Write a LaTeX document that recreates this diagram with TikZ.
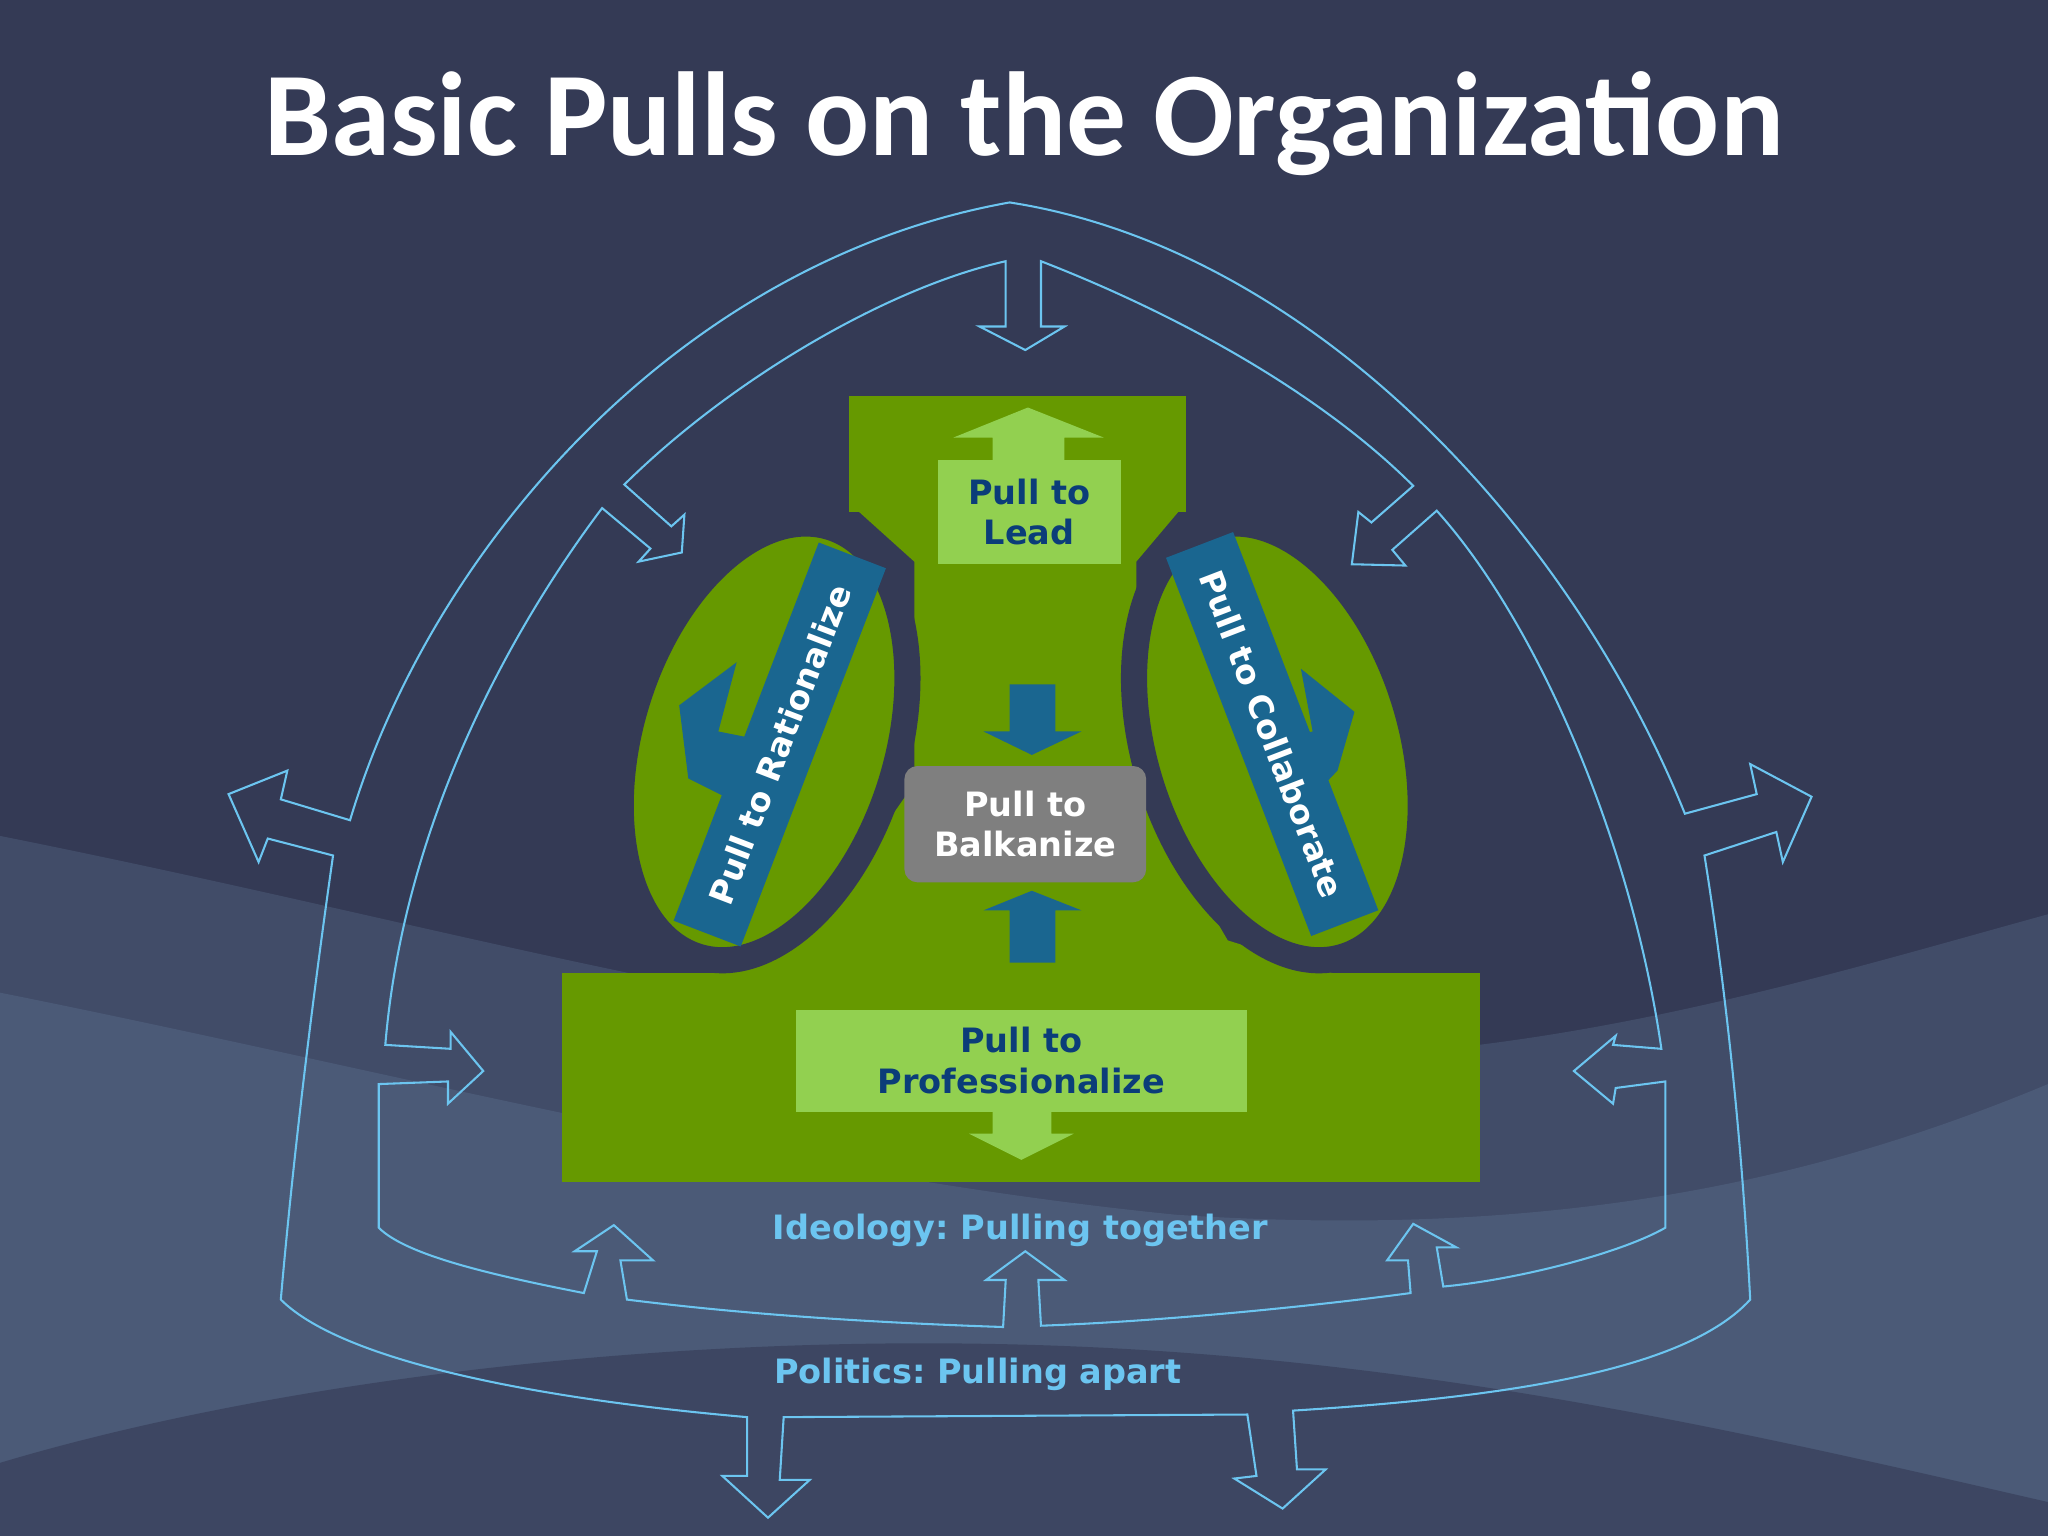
\documentclass[tikz,border=0pt]{standalone}
\usepackage{fontspec}
\setmainfont{DejaVu Sans}
\newfontfamily\titlefont{Carlito}
\definecolor{bg}{HTML}{343A55}
\definecolor{grn}{HTML}{669900}
\definecolor{lgrn}{HTML}{92D050}
\definecolor{navy}{HTML}{0B3D79}
\definecolor{bblue}{HTML}{1A6690}
\definecolor{gry}{HTML}{7F7F7F}
\definecolor{lbl}{HTML}{6CC5F0}
\definecolor{wave}{HTML}{5A6F8E}
\begin{document}
\frenchspacing
\begin{tikzpicture}[x=0.01cm,y=-0.01cm,
  outl/.style={draw=lbl,line width=0.45pt,line join=miter},
  lbox/.style={fill=lgrn,text=navy,font=\fontsize{7.3}{8.8}\selectfont\bfseries,align=center,inner sep=0pt},
  bar/.style={fill=bblue,text=white,font=\fontsize{7.2}{8}\selectfont\bfseries,minimum width=3.1cm,minimum height=0.55cm,inner sep=0pt},
  lab/.style={text=lbl,font=\fontsize{7.3}{8}\selectfont\bfseries,anchor=west,inner sep=0pt}]
\useasboundingbox (0,0) rectangle (1568,1176);
\fill[bg] (0,0) rectangle (1568,1176);
\fill[wave,opacity=0.35] (0,640) .. controls (300,700) and (500,760) .. (800,800) .. controls (1100,840) and (1350,760) .. (1568,700) -- (1568,1176) -- (0,1176) -- cycle;
\fill[wave,opacity=0.4] (0,760) .. controls (300,820) and (600,900) .. (900,930) .. controls (1200,950) and (1400,900) .. (1568,830) -- (1568,1176) -- (0,1176) -- cycle;
\fill[bg,opacity=0.6] (0,1120) .. controls (200,1060) and (500,1020) .. (800,1030) .. controls (1100,1040) and (1350,1100) .. (1568,1150) -- (1568,1176) -- (0,1176) -- cycle;
\node[text=white,font=\titlefont\fontsize{26}{30}\selectfont\bfseries] (title) at (784,95) {Basic Pulls on the Organization};
\draw[outl] (773,155) .. controls (1000,190) and (1200,400) .. (1290,623)
 -- (1345,608) -- (1340,585) -- (1387,610) -- (1365,660) -- (1360,637) -- (1305,655)
 .. controls (1325,780) and (1335,900) .. (1340,995)
 .. controls (1290,1050) and (1150,1070) .. (990,1080)
 -- (993,1125) -- (1015,1125) -- (982,1155) -- (945,1132) -- (962,1130) -- (955,1083)
 -- (600,1085) -- (597,1133) -- (620,1133) -- (588,1162) -- (553,1130) -- (572,1130) -- (572,1085)
 .. controls (400,1070) and (260,1040) .. (215,995)
 .. controls (225,880) and (240,760) .. (255,655)
 -- (205,642) -- (198,660) -- (175,608) -- (220,590) -- (215,612) -- (268,628)
 .. controls (330,420) and (520,200) .. cycle;
\draw[outl] (797,200) .. controls (900,240) and (1010,300) .. (1082,372)
 -- (1050,400) -- (1040,392) -- (1035,432) -- (1076,433) -- (1066,421) -- (1100,391)
 .. controls (1180,480) and (1250,650) .. (1272,803)
 -- (1235,800) -- (1237,793) -- (1205,820) -- (1235,845) -- (1237,833) -- (1275,828)
 -- (1275,940) .. controls (1240,960) and (1160,980) .. (1105,985)
 -- (1100,955) -- (1115,955) -- (1082,937) -- (1062,965) -- (1078,965) -- (1080,990)
 .. controls (990,1002) and (880,1012) .. (797,1015)
 -- (795,980) -- (815,980) -- (785,958) -- (755,980) -- (770,980) -- (768,1016)
 .. controls (650,1012) and (560,1005) .. (480,995)
 -- (475,965) -- (500,965) -- (470,938) -- (440,958) -- (457,958) -- (447,990)
 .. controls (370,975) and (310,960) .. (290,940)
 -- (290,830) -- (343,828) -- (343,845) -- (370,820) -- (345,790) -- (345,803) -- (295,800)
 .. controls (310,620) and (400,470) .. (461,389)
 -- (498,420) -- (489,430) -- (522,423) -- (524,394) -- (514,403) -- (478,371)
 .. controls (560,290) and (680,220) .. (770,200)
 -- (770,250) -- (750,250) -- (785,268) -- (815,250) -- (797,250) -- cycle;
\fill[grn] (650,303) rectangle (908,392);
\fill[grn] (430,745) rectangle (1133,905);
\fill[grn] (650,385) -- (908,385) -- (870,430) -- (870,600) -- (940,720) -- (1030,748) -- (540,748) -- (630,700) -- (700,600) -- (700,430) -- cycle;
\fill[grn,draw=bg,line width=0.2cm,rotate around={-17:(585,568)}] (585,568) ellipse (102 and 172);
\fill[grn,draw=bg,line width=0.2cm,rotate around={17:(978,568)}] (978,568) ellipse (102 and 172);
\fill[bblue] (520,540) -- (564,507) -- (550,560) -- (575,565) -- (555,610) -- (527,596) -- cycle;
\fill[bblue] (1037,545) -- (996,512) -- (1005,560) -- (985,565) -- (1005,610) -- (1024,590) -- cycle;
\node[bar,rotate=69] (rat) at (597,570) {Pull to Rationalize};
\node[bar,rotate=-69] (col) at (974,562) {Pull to Collaborate};
\fill[lgrn] (760,352) -- (760,335) -- (730,335) -- (787,312) -- (845,335) -- (815,335) -- (815,352) -- cycle;
\node[lbox,minimum width=1.4cm,minimum height=0.8cm] (lead) at (788,392) {Pull to\\Lead};
\node[lbox,minimum width=3.45cm,minimum height=0.78cm] (prof) at (782,812) {Pull to\\Professionalize};
\fill[lgrn] (760,850) -- (760,868) -- (742,868) -- (782,888) -- (822,868) -- (805,868) -- (805,850) -- cycle;
\node[fill=gry,rounded corners=0.1cm,text=white,font=\fontsize{7.3}{8.8}\selectfont\bfseries,align=center,minimum width=1.85cm,minimum height=0.89cm,inner sep=0pt] (balk) at (785,631) {Pull to\\Balkanize};
\fill[bblue] (773,524) -- (808,524) -- (808,560) -- (828,560) -- (790,578) -- (753,560) -- (773,560) -- cycle;
\fill[bblue] (773,737) -- (808,737) -- (808,697) -- (828,697) -- (790,682) -- (753,697) -- (773,697) -- cycle;
\node[lab] (ideo) at (591,942) {Ideology: Pulling together};
\node[lab] (pol) at (592,1052) {Politics: Pulling apart};
\end{tikzpicture}
\end{document}
